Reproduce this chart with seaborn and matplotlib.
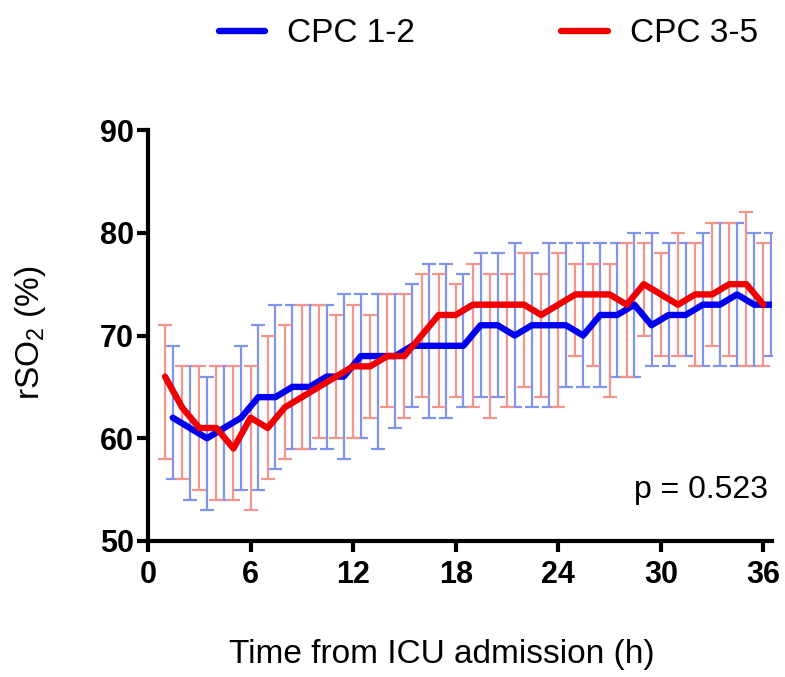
# rSO2 over time from ICU admission, by CPC group (median with range bars)

import matplotlib
matplotlib.use("Agg")
import pandas as pd
import matplotlib.pyplot as plt
import seaborn as sns

hours = [1, 2, 3, 4, 5, 6, 7, 8, 9, 10, 11, 12, 13, 14, 15, 16, 17, 18,
         19, 20, 21, 22, 23, 24, 25, 26, 27, 28, 29, 30, 31, 32, 33, 34, 35, 36]

groups = ["CPC 1-2", "CPC 3-5"]

good_mean = [62, 61, 60, 61, 62, 64, 64, 65, 65, 66, 66, 68, 68, 68, 69, 69, 69, 69,
             71, 71, 70, 71, 71, 71, 70, 72, 72, 73, 71, 72, 72, 73, 73, 74, 73, 73]
good_high = [69, 67, 66, 67, 69, 71, 73, 73, 73, 73, 74, 74, 74, 74, 75, 77, 77, 76,
             78, 78, 79, 78, 79, 79, 79, 79, 79, 80, 80, 79, 79, 80, 81, 81, 80, 80]
good_low = [56, 54, 53, 54, 55, 55, 57, 59, 59, 59, 58, 60, 59, 61, 63, 62, 62, 63,
            64, 64, 63, 63, 63, 65, 65, 65, 66, 66, 67, 67, 68, 67, 67, 67, 67, 68]

poor_mean = [66, 63, 61, 61, 59, 62, 61, 63, 64, 65, 66, 67, 67, 68, 68, 70, 72, 72,
             73, 73, 73, 73, 72, 73, 74, 74, 74, 73, 75, 74, 73, 74, 74, 75, 75, 73]
poor_high = [71, 67, 67, 67, 67, 67, 70, 71, 73, 73, 72, 73, 72, 74, 74, 76, 76, 75,
             77, 76, 76, 78, 76, 78, 77, 77, 77, 79, 79, 78, 80, 79, 81, 81, 82, 79]
poor_low = [58, 56, 55, 54, 54, 53, 56, 58, 59, 60, 60, 60, 62, 63, 62, 64, 63, 64,
            63, 62, 63, 65, 64, 63, 68, 67, 64, 66, 70, 68, 68, 67, 69, 68, 67, 67]

line_colors = {"CPC 1-2": "#0000f0", "CPC 3-5": "#f00000"}
bar_colors = {"CPC 1-2": "#8094ee", "CPC 3-5": "#f2958c"}
dodge = {"CPC 1-2": 0.45, "CPC 3-5": 0.0}

frames = []
for g, m, lo, hi in [(groups[0], good_mean, good_low, good_high),
                     (groups[1], poor_mean, poor_low, poor_high)]:
    frames.append(pd.DataFrame({"Group": g, "Hour": hours, "rSO2": m,
                                "Low": lo, "High": hi}))
df = pd.concat(frames, ignore_index=True)
df["X"] = df["Hour"] + df["Group"].map(dodge)

sns.set_style("ticks", {"axes.edgecolor": "black", "text.color": "black",
                        "axes.labelcolor": "black", "xtick.color": "black",
                        "ytick.color": "black"})
plt.rcParams["font.family"] = ["Liberation Sans", "DejaVu Sans"]
plt.rcParams["mathtext.default"] = "regular"

fig = plt.figure(figsize=(7.85, 6.77), dpi=100)
ax = fig.add_axes([0.1885, 0.2009, 0.795, 0.607])

for g in groups:
    sub = df[df["Group"] == g]
    ax.errorbar(sub["X"], sub["rSO2"],
                yerr=[sub["rSO2"] - sub["Low"], sub["High"] - sub["rSO2"]],
                fmt="none", ecolor=bar_colors[g], elinewidth=1.6,
                capsize=5, capthick=1.6, zorder=1)

sns.lineplot(data=df, x="X", y="rSO2", hue="Group", hue_order=groups,
             palette=line_colors, linewidth=4.6, ax=ax, zorder=3)

handles, labels = ax.get_legend_handles_labels()
ax.get_legend().remove()
fig.legend(handles, labels, loc="center", bbox_to_anchor=(0.622, 0.95),
           ncol=2, frameon=False, fontsize=24, handlelength=1.4,
           handletextpad=0.65, columnspacing=4.4)

ax.set_xlim(0, 36.5)
ax.set_ylim(50, 90)
ax.set_xticks([0, 6, 12, 18, 24, 30, 36])
ax.set_yticks([50, 60, 70, 80, 90])
sns.despine(ax=ax)
for side in ["left", "bottom"]:
    ax.spines[side].set_linewidth(3)
    ax.spines[side].set_color("black")
ax.tick_params(axis="both", width=3, length=8, labelsize=22,
               color="black", labelcolor="black")
ax.tick_params(axis="y", pad=2)
ax.tick_params(axis="x", pad=6)
for lbl in ax.get_xticklabels() + ax.get_yticklabels():
    lbl.set_fontweight("bold")

ax.set_xlabel("Time from ICU admission (h)", fontsize=24, color="black")
ax.xaxis.set_label_coords(0.471, -0.277)
ax.xaxis.label.set_verticalalignment("center")
ax.set_ylabel("rSO$_2$ (%)", fontsize=24, color="black")
ax.yaxis.set_label_coords(-0.1875, 0.506)
ax.yaxis.label.set_verticalalignment("center")

ax.text(0.9936, 0.124, "p = 0.523", transform=ax.transAxes,
        ha="right", va="center", fontsize=23, color="black")

plt.savefig("out.png", dpi=100)
